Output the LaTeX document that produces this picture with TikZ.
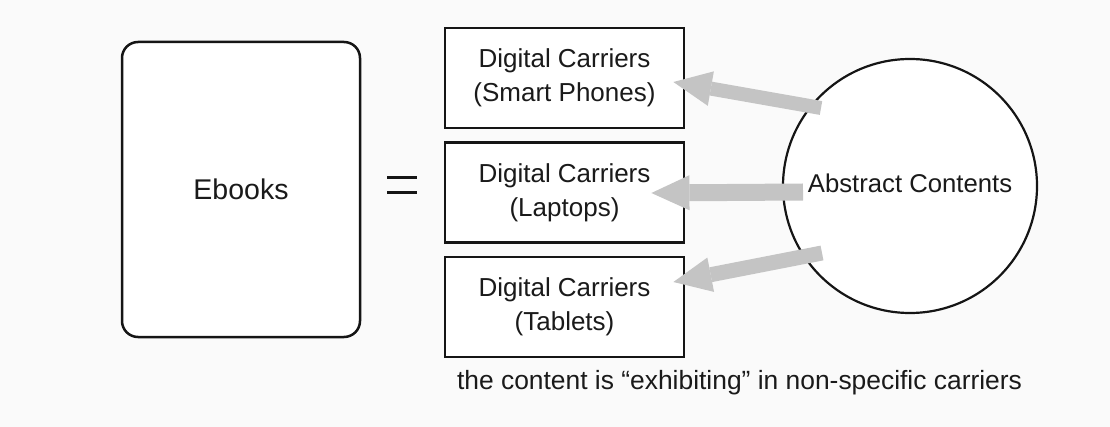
\documentclass[tikz,border=0pt]{standalone}
\usepackage{fontspec}
\setmainfont{Liberation Sans}
\usetikzlibrary{arrows.meta,calc}
\definecolor{txt}{HTML}{1A1A1A}
\definecolor{arr}{HTML}{C4C4C4}
\definecolor{bg}{HTML}{FAFAFA}
\definecolor{ln}{HTML}{151515}
\begin{document}
\begin{tikzpicture}[x=1pt,y=-1pt,
  carrier/.style={draw=ln, line width=2.8pt, fill=white, minimum width=239pt, minimum height=100pt, inner sep=0pt, align=center, text=txt, font=\fontsize{26}{34}\selectfont},
  bigarrow/.style={draw=arr, line width=#1, -{Triangle[length=38pt,width=35pt,line width=0pt]}},
  bigarrow/.default=15pt,
  lbl/.style={text=txt, font=\fontsize{25.7}{32}\selectfont, inner sep=0pt}
]
\path[fill=bg] (0,0) rectangle (1110,427);
\useasboundingbox (0,0) rectangle (1110,427);

\node[draw=ln, rounded corners=16pt, line width=2.5pt, minimum width=238pt, minimum height=295pt, fill=white, inner sep=0pt, text=txt, font=\fontsize{28.5}{34}\selectfont] (eb) at (241,189.5) {Ebooks};

\draw[ln, line width=3pt] (387,178) coordinate (eqa) -- (417,178) coordinate (eqb);
\draw[ln, line width=3pt] (387,193) coordinate (eqc) -- (417,193) coordinate (eqd);

\node[carrier] (c1) at (564.5,78) {Digital Carriers\\(Smart Phones)};
\node[carrier] (c2) at (564.5,192.5) {Digital Carriers\\(Laptops)};
\node[carrier] (c3) at (564.5,307) {Digital Carriers\\(Tablets)};

\node[draw=ln, circle, line width=2.2pt, minimum size=254pt, inner sep=0pt, fill=white] (ac) at (910,186) {};

\coordinate (t1) at ($(ac.center)+(-89,-78)$);
\coordinate (t2) at ($(ac.center)+(-107,6)$);
\coordinate (t3) at ($(ac.center)+(-88,67)$);
\coordinate (h1) at ($(c1.east)+(-12,4)$);
\coordinate (h2) at ($(c2.east)+(-34,0.5)$);
\coordinate (h3) at ($(c3.east)+(-12,-25)$);

\draw[bigarrow=14pt] (t1) -- (h1);
\draw[bigarrow=17pt] (t2) -- (h2);
\draw[bigarrow=15pt] (t3) -- (h3);

\node[lbl] (actxt) at (910,183) {Abstract Contents};

\node[lbl, font=\fontsize{26.4}{32}\selectfont] (cap) at (739.5,383) {the content is “exhibiting” in non-specific carriers};
\end{tikzpicture}
\end{document}
